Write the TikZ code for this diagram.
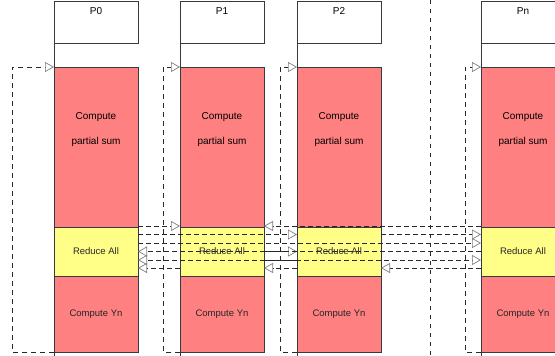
\documentclass[tikz,border=0pt]{standalone}
\usepackage{fontspec}
\setmainfont{Liberation Sans}
\usetikzlibrary{positioning, arrows.meta, shadows}
\definecolor{ComputeColor}{RGB}{255,128,128}
\definecolor{ReduceColor}{RGB}{255,255,136}
\definecolor{EdgeColor}{RGB}{54,57,61}
\definecolor{LinkColor}{RGB}{40,40,40}
\tikzstyle{box} = [rectangle, draw=EdgeColor, line width=0.8pt, inner sep=0pt, outer sep=0pt, minimum width=84pt, text=black!85, font=\fontsize{9.5}{11.4}\selectfont]
\tikzstyle{head} = [box, fill=white, minimum height=42pt, anchor=north west]
\tikzstyle{work} = [box, fill=ComputeColor, drop shadow={shadow xshift=1pt, shadow yshift=-1pt, fill=black!40}]
\tikzstyle{reduce} = [box, fill=ReduceColor, minimum height=49pt, drop shadow={shadow xshift=1pt, shadow yshift=-1pt, fill=black!40}]
\tikzstyle{life} = [EdgeColor, line width=0.8pt]
\tikzstyle{msg} = [LinkColor, line width=0.7pt, dash pattern=on 5pt off 3pt, -{Triangle[open, length=9pt, width=10pt, color=gray]}]
\tikzstyle{loopback} = [msg, dash pattern=on 5pt off 4pt]

\begin{document}
\begin{tikzpicture}[x=1pt, y=-1pt]
  \useasboundingbox (0,0) rectangle (555,356);
  \clip (0,0) rectangle (555,356);

  % P0
  \node[head, label={[anchor=north, yshift=-3pt]north:P0}] (h0) at (54,1) {};
  \node[work, minimum height=160pt, below=24pt of h0, label={[anchor=north, yshift=-41.5pt, align=center]north:Compute\\[13pt]partial sum}] (s0) {};
  \node[reduce, below=0pt of s0] (r0) {Reduce All};
  \node[work, minimum height=76pt, below=0pt of r0] (y0) {Compute Yn};

  % P1
  \node[head, label={[anchor=north, yshift=-3pt]north:P1}] (h1) at (180,1) {};
  \node[work, minimum height=160pt, below=24pt of h1, label={[anchor=north, yshift=-41.5pt, align=center]north:Compute\\[13pt]partial sum}] (s1) {};
  \node[reduce, below=0pt of s1] (r1) {Reduce All};
  \node[work, minimum height=76pt, below=0pt of r1] (y1) {Compute Yn};

  % P2
  \node[head, label={[anchor=north, yshift=-3pt]north:P2}] (h2) at (297,1) {};
  \node[work, minimum height=160pt, below=24pt of h2, label={[anchor=north, yshift=-41.5pt, align=center]north:Compute\\[13pt]partial sum}] (s2) {};
  \node[reduce, below=0pt of s2] (r2) {Reduce All};
  \node[work, minimum height=76pt, below=0pt of r2] (y2) {Compute Yn};

  % Pn
  \node[head, label={[anchor=north, yshift=-3pt]north:Pn}] (hn) at (481,1) {};
  \node[work, minimum height=160pt, below=24pt of hn, label={[anchor=north, yshift=-41.5pt, align=center]north:Compute\\[13pt]partial sum}] (sn) {};
  \node[reduce, below=0pt of sn] (rn) {Reduce All};
  \node[work, minimum height=76pt, below=0pt of rn] (yn) {Compute Yn};

  % Lifelines
  \draw[life] (h0.south west) -- ([yshift=-4pt]y0.south west);
  \draw[life] (h1.south west) -- ([yshift=-4pt]y1.south west);
  \draw[life] (h2.south west) -- ([yshift=-4pt]y2.south west);
  \draw[life] (hn.south west) -- ([yshift=-4pt]yn.south west);

  % Iteration loops
  \draw[loopback] (y0.south west) -- ++(-42,0) |- (s0.north west);
  \draw[loopback] (y1.south west) -- ++(-17,0) |- (s1.north west);
  \draw[loopback] (y2.south west) -- ++(-17,0) |- (s2.north west);
  \draw[loopback] (yn.south west) -- ++(-16,0) |- (sn.north west);

  % Separator
  \draw[LinkColor, line width=0.7pt, dash pattern=on 4pt off 5pt] (430,0) -- (430,356);

  % Reduce messages
  \draw[msg] ([yshift=1pt]r0.north east) -- ([yshift=1pt]r1.north west);
  \draw[msg] ([yshift=-7.5pt]r0.north east) -- ([yshift=-7.5pt]r2.north west);
  \draw[msg] ([yshift=-16pt]r0.north east) -- ([yshift=-16pt]rn.north west);
  \draw[msg] ([yshift=-41pt]r1.north west) -- ([yshift=-41pt]r0.north east);
  \draw[msg] ([yshift=-24.5pt]r1.north east) -- ([yshift=-24.5pt]r2.north west);
  \draw[msg] ([yshift=-33pt]r1.north east) -- ([yshift=-33pt]rn.north west);
  \draw[msg] ([yshift=-33pt]r2.north west) -- ([yshift=-33pt]r0.north east);
  \draw[msg] ([yshift=-41pt]r2.north west) -- ([yshift=-41pt]r1.north east);
  \draw[msg] ([yshift=-7.5pt]r2.north east) -- ([yshift=-7.5pt]rn.north west);
  \draw[msg] ([yshift=-24.5pt]rn.north west) -- ([yshift=-24.5pt]r0.north east);
  \draw[msg] ([yshift=1pt]rn.north west) -- ([yshift=1pt]r1.north east);
  \draw[msg] ([yshift=-41pt]rn.north west) -- ([yshift=-41pt]r2.north east);
\end{tikzpicture}
\end{document}
